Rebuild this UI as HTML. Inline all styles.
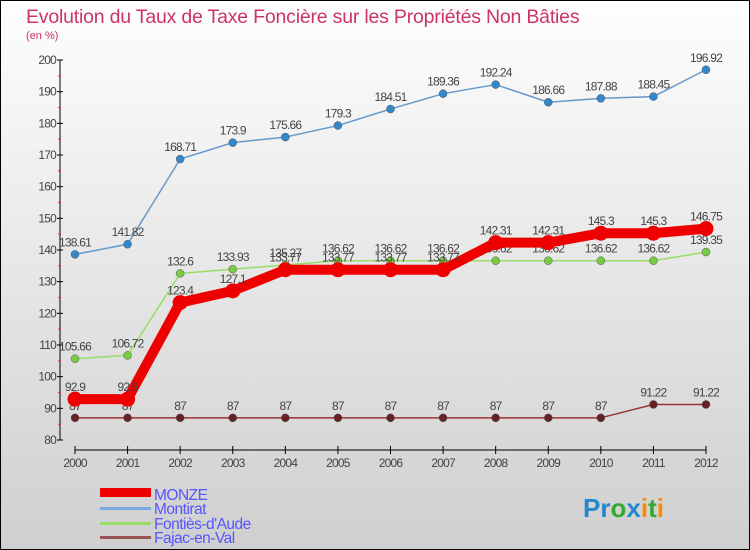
<!DOCTYPE html>
<html><head><meta charset="utf-8"><style>
body{margin:0;width:750px;height:550px;overflow:hidden}
svg{display:block;font-family:"Liberation Sans",sans-serif}
</style></head><body>
<svg id="c" width="750" height="550" xmlns="http://www.w3.org/2000/svg">
<defs><linearGradient id="bg" x1="0" y1="0" x2="0" y2="1"><stop offset="0" stop-color="#fefefe"/><stop offset="1" stop-color="#cfcfcf"/></linearGradient></defs>
<rect x="0.5" y="0.5" width="749" height="549" fill="url(#bg)" stroke="#000"/>
<text x="26" y="23" font-size="19.5" fill="#cc3366" letter-spacing="-0.2">Evolution du Taux de Taxe Foncière sur les Propriétés Non Bâties</text>
<text x="26" y="39" font-size="11" fill="#cc3366">(en %)</text>
<g id="axes"></g><g id="series"></g>
<g font-size="15.5" fill="#5555ff" letter-spacing="-0.5">
<rect x="100" y="488" width="51" height="9" fill="#ee0000"/>
<text x="154" y="500">MONZE</text>
<rect x="100" y="507" width="51" height="3" fill="#77aadd"/>
<text x="154" y="514">Montirat</text>
<rect x="100" y="522" width="51" height="3" fill="#99dd66"/>
<text x="154" y="529">Fontiès-d'Aude</text>
<rect x="100" y="536" width="51" height="3" fill="#995555"/>
<text x="154" y="543">Fajac-en-Val</text>
</g>
<text x="583" y="517" font-size="26" font-weight="bold"><tspan fill="#2288cc">Pr</tspan><tspan fill="#33aa33">o</tspan><tspan fill="#2288cc">x</tspan><tspan fill="#ff8800">i</tspan><tspan fill="#33aa33">t</tspan><tspan fill="#ff8800">i</tspan></text>
</svg>
<script>
const years=["2000","2001","2002","2003","2004","2005","2006","2007","2008","2009","2010","2011","2012"];
const yTicks=[80,90,100,110,120,130,140,150,160,170,180,190,200];
const monze=[92.9,92.9,123.4,127.1,133.77,133.77,133.77,133.77,142.31,142.31,145.3,145.3,146.75];
const montirat=[138.61,141.82,168.71,173.9,175.66,179.3,184.51,189.36,192.24,186.66,187.88,188.45,196.92];
const fonties=[105.66,106.72,132.6,133.93,135.27,136.62,136.62,136.62,136.62,136.62,136.62,136.62,139.35];
const fajac=[87,87,87,87,87,87,87,87,87,87,87,91.22,91.22];
const NS="http://www.w3.org/2000/svg";
const X=i=>75+i*(706-75)/(years.length-1);
const Y=v=>440-(v-80)*380/120;
function mk(t,a,p){const e=document.createElementNS(NS,t);for(const k in a)e.setAttribute(k,a[k]);p.appendChild(e);return e;}
const ax=document.getElementById('axes');
let l=mk('line',{x1:60,y1:60,x2:60,y2:440,stroke:'#000'},ax);


yTicks.forEach(v=>{
  mk('line',{x1:57,x2:63,y1:Y(v),y2:Y(v),stroke:'#000'},ax);
  if(v<200) mk('line',{x1:58,x2:61,y1:Y(v+5),y2:Y(v+5),stroke:'#e03030'},ax);
  const t=mk('text',{x:56,y:Y(v)+4,'text-anchor':'end','font-size':12,fill:'#444','letter-spacing':'-0.8'},ax);
  t.textContent=v;
  
  
});
l=mk('line',{x1:75,y1:450,x2:706,y2:450,stroke:'#000'},ax);


years.forEach((y,i)=>{
  mk('line',{x1:X(i),x2:X(i),y1:446,y2:454,stroke:'#000'},ax);
  const t=mk('text',{x:X(i),y:467,'text-anchor':'middle','font-size':12,fill:'#444','letter-spacing':'-0.8'},ax);
  t.textContent=y;
  
  
});
const sg=document.getElementById('series');
function series(name,vals,color,dot,w,r){
  const g=mk('g',{},sg);
  
  
  const pl=mk('polyline',{points:vals.map((v,i)=>X(i)+','+Y(v)).join(' '),fill:'none',stroke:color,'stroke-width':w,'stroke-linejoin':'round'},g);
  
  
  vals.forEach((v,i)=>{
    const c=mk('circle',{cx:X(i),cy:Y(v),r:r,fill:dot,stroke:w>3?'none':'#555','stroke-width':0.5},g);
    
    
    const t=mk('text',{x:X(i),y:Y(v)-8,'text-anchor':'middle','font-size':12,fill:'#444','letter-spacing':'-0.8'},g);
    t.textContent=String(v);
    
    
  });
}
series('fajac',fajac,'#993333','#662222',1.5,4);
series('fonties',fonties,'#99dd66','#77cc44',1.5,4);
series('montirat',montirat,'#6699cc','#3388cc',1.5,4);
series('monze',monze,'#ee0000','#ee0000',10,7.5);
</script>
</body></html>
